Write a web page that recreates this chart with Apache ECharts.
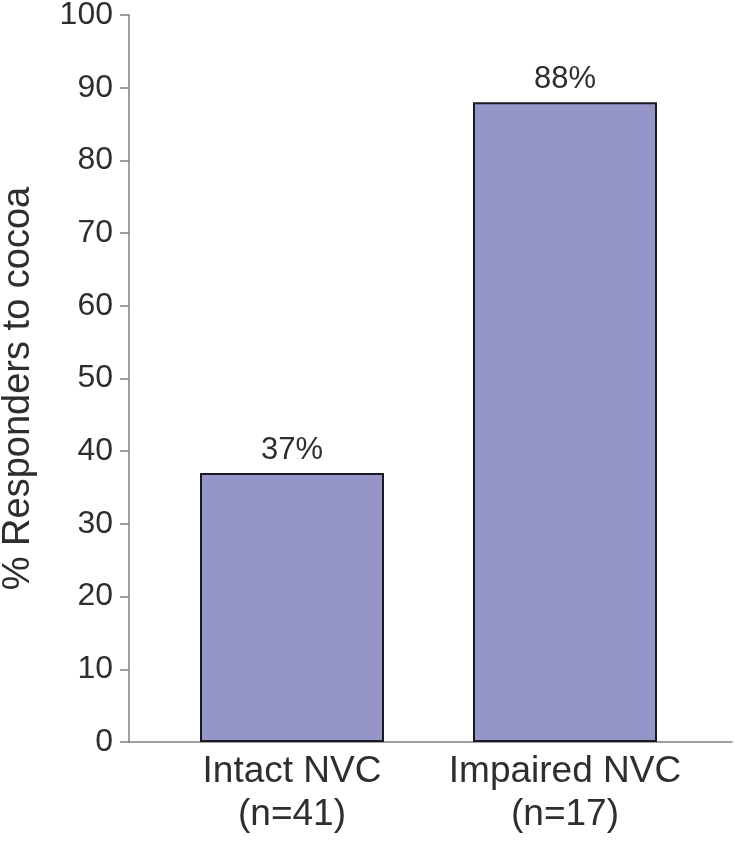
<!DOCTYPE html>
<html>
<head>
<meta charset="utf-8">
<script src="https://cdn.jsdelivr.net/npm/echarts@6/dist/echarts.min.js"></script>
<style>
html,body{margin:0;padding:0;background:#fff;}
#c{width:735px;height:841px;}
</style>
</head>
<body>
<div id="c"></div>
<script>
const categories = ['Intact NVC\n(n=41)', 'Impaired NVC\n(n=17)'];
const responders = [37, 88];
const yTicks = [0, 10, 20, 30, 40, 50, 60, 70, 80, 90, 100];
const yAxisTitle = '% Responders to cocoa';

const FONT = '"Liberation Sans", Arial, Helvetica, sans-serif';
const TXT = '#2e2e2e';
const AX = '#808080';

const chart = echarts.init(document.getElementById('c'), null, {renderer: 'canvas'});
chart.setOption({
  animation: false,
  backgroundColor: '#ffffff',
  textStyle: {fontFamily: FONT},
  grid: [
    {left: 129, right: 3, top: 15, bottom: 99, containLabel: false, outerBoundsMode: 'none'},
    {left: 155.5, right: 33.5, top: 15, bottom: 99, containLabel: false, outerBoundsMode: 'none'}
  ],
  xAxis: [
    {
      gridIndex: 0, type: 'value', min: 0, max: 1,
      axisLine: {show: true, onZero: false, lineStyle: {color: AX, width: 1.5}},
      axisTick: {show: false}, axisLabel: {show: false}, splitLine: {show: false}
    },
    {
      gridIndex: 1, type: 'category', data: categories,
      axisLine: {show: false}, axisTick: {show: false}, splitLine: {show: false},
      axisLabel: {
        show: true, interval: 0, margin: 8,
        fontFamily: FONT, fontSize: 37, lineHeight: 43, color: TXT
      }
    }
  ],
  yAxis: [
    {
      gridIndex: 0, type: 'value', min: yTicks[0], max: yTicks[yTicks.length - 1], interval: 10,
      name: yAxisTitle, nameLocation: 'middle', nameGap: 91,
      nameTextStyle: {fontFamily: FONT, fontSize: 38, color: TXT, padding: [0, 20, 0, 0]},
      axisLine: {show: true, lineStyle: {color: AX, width: 1.5}},
      axisTick: {show: true, length: 9, inside: false, lineStyle: {color: AX, width: 1.5}},
      axisLabel: {show: true, margin: 16, fontFamily: FONT, fontSize: 32, color: TXT},
      splitLine: {show: false}
    },
    {
      gridIndex: 1, type: 'value', min: 0, max: 100, show: false
    }
  ],
  series: [{
    type: 'bar',
    xAxisIndex: 1, yAxisIndex: 1,
    data: responders,
    barWidth: 184,
    itemStyle: {color: '#9595c7', borderColor: '#1a1a24', borderWidth: 2},
    label: {
      show: true, position: 'top', distance: 7,
      formatter: p => p.value + '%',
      fontFamily: FONT, fontSize: 31, color: TXT
    }
  }]
});
</script>
</body>
</html>
